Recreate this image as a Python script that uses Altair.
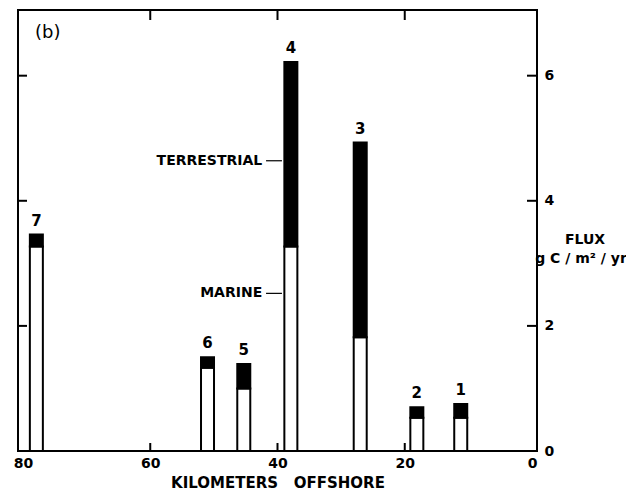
import altair as alt
import pandas as pd

# ---- data ----
station = ["1", "2", "3", "4", "5", "6", "7"]
km_offshore = [11.2, 18.1, 27.0, 37.9, 45.3, 51.0, 77.9]
marine = [0.53, 0.53, 1.82, 3.27, 1.00, 1.33, 3.27]
terrestrial = [0.22, 0.17, 3.11, 2.95, 0.39, 0.17, 0.19]

x_label_values = [80, 60, 40, 20, 0]
y_label_values = [0, 2, 4, 6]
inner_x_ticks = [60, 40, 20]
inner_y_ticks = [2, 4, 6]

ann_labels = ["TERRESTRIAL", "MARINE"]
ann_flux = [4.64, 2.52]
ann_text_km = [42.4, 42.4]
ann_line_from = [41.8, 41.8]
ann_line_to = [39.3, 39.3]

W, H = 519, 441
FONT = "DejaVu Sans"

df = pd.DataFrame({"station": station, "km": km_offshore,
                   "marine": marine, "terrestrial": terrestrial})
ann = pd.DataFrame({"label": ann_labels, "flux": ann_flux, "tkm": ann_text_km,
                    "l1": ann_line_from, "l2": ann_line_to})
xt = pd.DataFrame({"v": inner_x_ticks})
yt = pd.DataFrame({"v": inner_y_ticks})

xs = alt.Scale(domain=[80, 0], nice=False, zero=False)
ys = alt.Scale(domain=[0, 7.05], nice=False)

base = alt.Chart(df).transform_calculate(total="datum.marine + datum.terrestrial")

marine_bars = base.mark_bar(size=13, fill="white", stroke="black", strokeWidth=2).encode(
    x=alt.X("km:Q", scale=xs,
            axis=alt.Axis(orient="bottom", values=x_label_values, format="d", ticks=False,
                          domain=False, grid=False, labelFlush=False, labelFont=FONT,
                          labelFontSize=14, labelFontWeight="bold", labelPadding=5,
                          labelColor="black", title="KILOMETERS\u00a0\u00a0\u00a0OFFSHORE",
                          titleFont=FONT, titleFontSize=15, titleFontWeight="bold",
                          titlePadding=5, titleColor="black")),
    y=alt.Y("marine:Q", scale=ys,
            axis=alt.Axis(orient="right", values=y_label_values, format="d", ticks=False,
                          domain=False, grid=False, labelFont=FONT, labelFontSize=14,
                          labelFontWeight="bold", labelPadding=7, labelColor="black",
                          title=None)),
)

terr_bars = base.mark_bar(size=13, fill="black", stroke="black", strokeWidth=2).encode(
    x=alt.X("km:Q", scale=xs),
    y=alt.Y("marine:Q", scale=ys),
    y2="total:Q",
)

numbers = base.mark_text(dy=-14, font=FONT, fontSize=15, fontWeight="bold", color="black").encode(
    x=alt.X("km:Q", scale=xs),
    y=alt.Y("total:Q", scale=ys),
    text="station:N",
)

ann_text = alt.Chart(ann).mark_text(align="right", baseline="middle", font=FONT, fontSize=14,
                                    fontWeight="bold", color="black").encode(
    x=alt.X("tkm:Q", scale=xs),
    y=alt.Y("flux:Q", scale=ys),
    text="label:N",
)
ann_line = alt.Chart(ann).mark_rule(color="black", strokeWidth=1.2).encode(
    x=alt.X("l1:Q", scale=xs),
    x2="l2:Q",
    y=alt.Y("flux:Q", scale=ys),
)

top_ticks = alt.Chart(xt).mark_rule(color="black", strokeWidth=2).encode(
    x=alt.X("v:Q", scale=xs), y=alt.value(0), y2=alt.value(10))
bottom_ticks = alt.Chart(xt).mark_rule(color="black", strokeWidth=2).encode(
    x=alt.X("v:Q", scale=xs), y=alt.value(H), y2=alt.value(H - 8))
left_ticks = alt.Chart(yt).mark_rule(color="black", strokeWidth=2).encode(
    y=alt.Y("v:Q", scale=ys), x=alt.value(0), x2=alt.value(9))
right_ticks = alt.Chart(yt).mark_rule(color="black", strokeWidth=2).encode(
    y=alt.Y("v:Q", scale=ys), x=alt.value(W - 10), x2=alt.value(W))

panel_label = alt.Chart(pd.DataFrame({"t": ["(b)"]})).mark_text(
    align="left", baseline="middle", font=FONT, fontSize=18, color="black").encode(
    x=alt.value(17), y=alt.value(23), text="t:N")

flux_line1 = alt.Chart(pd.DataFrame({"t": ["FLUX"]})).mark_text(
    align="center", baseline="middle", font=FONT, fontSize=14, fontWeight="bold",
    color="black").encode(x=alt.value(W + 48), y=alt.value(230), text="t:N")
flux_line2 = alt.Chart(pd.DataFrame({"t": ["g C / m² / yr"]})).mark_text(
    align="center", baseline="middle", font=FONT, fontSize=14, fontWeight="bold",
    color="black").encode(x=alt.value(W + 44), y=alt.value(249), text="t:N")

chart = alt.layer(
    marine_bars, terr_bars, numbers, ann_text, ann_line,
    top_ticks, bottom_ticks, left_ticks, right_ticks, panel_label, flux_line1, flux_line2,
).properties(
    width=W, height=H,
    autosize=alt.AutoSizeParams(type="none"),
    padding={"left": 18, "top": 10, "right": 89, "bottom": 41},
    background="white",
).configure_view(stroke="black", strokeWidth=2)

chart.save("out.html", embed_options={"renderer": "svg", "actions": False})
